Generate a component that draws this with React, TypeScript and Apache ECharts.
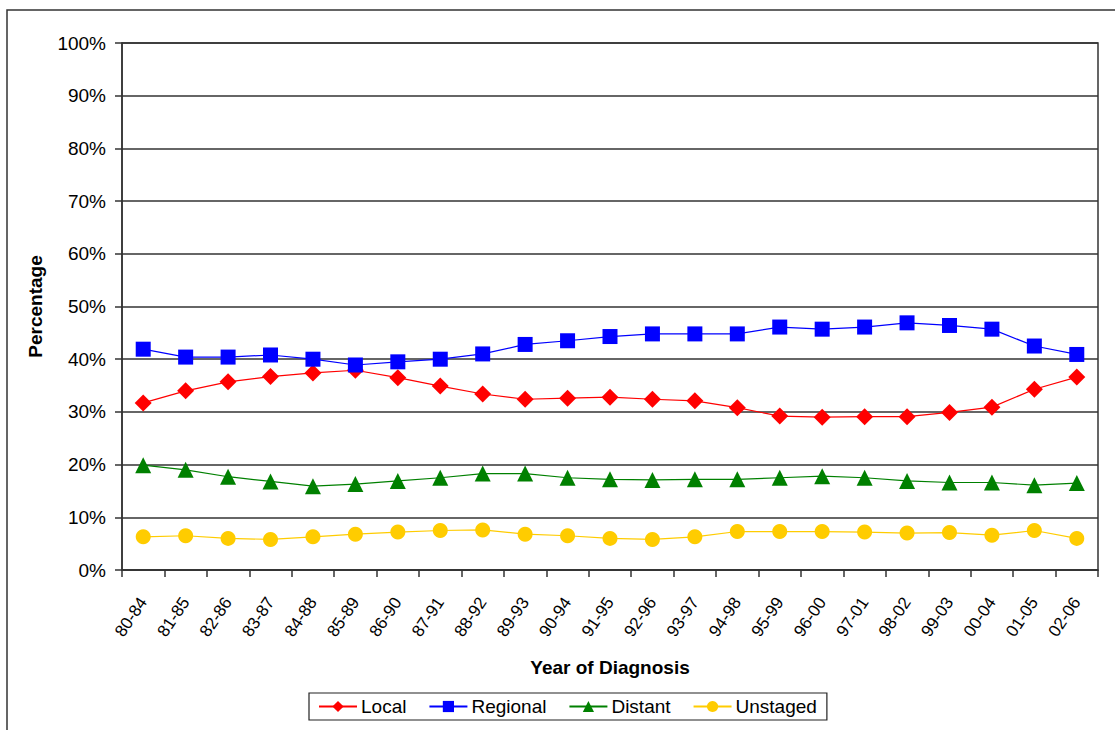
import React, { useEffect, useRef } from "react";
import * as echarts from "echarts";

const categories = ["80-84","81-85","82-86","83-87","84-88","85-89","86-90","87-91","88-92","89-93","90-94","91-95","92-96","93-97","94-98","95-99","96-00","97-01","98-02","99-03","00-04","01-05","02-06"];
const local = [31.7,34.0,35.7,36.7,37.4,37.9,36.5,34.9,33.4,32.4,32.6,32.8,32.4,32.1,30.8,29.2,29.0,29.1,29.1,29.9,30.9,34.3,36.6];
const regional = [41.9,40.4,40.4,40.8,40.0,38.9,39.5,40.0,41.0,42.8,43.5,44.3,44.8,44.8,44.8,46.1,45.7,46.1,46.9,46.4,45.7,42.5,40.9];
const distant = [19.9,19.0,17.7,16.8,15.9,16.3,16.9,17.5,18.3,18.3,17.5,17.2,17.1,17.2,17.2,17.5,17.8,17.5,16.9,16.6,16.6,16.1,16.5];
const unstaged = [6.3,6.5,6.0,5.8,6.3,6.8,7.2,7.5,7.6,6.8,6.5,6.0,5.8,6.3,7.3,7.3,7.3,7.2,7.0,7.1,6.6,7.5,6.0];

const FONT = "'Liberation Sans', Arial, sans-serif";

export default function App() {
  const ref = useRef<HTMLDivElement>(null);
  useEffect(() => {
    if (!ref.current) return;
    const chart = echarts.init(ref.current, null, { renderer: "svg" });
    const mk = (name: string, data: number[], color: string, symbol: string, size: number) => ({
      name,
      type: "line",
      data,
      symbol,
      symbolSize: size,
      lineStyle: { color, width: 1.2 },
      itemStyle: { color },
    });
    chart.setOption({
      animation: false,
      textStyle: { fontFamily: FONT },
      graphic: [
        {
          type: "rect",
          shape: { x: 7, y: 10, width: 1200, height: 800 },
          style: { fill: "none", stroke: "#333", lineWidth: 1.5 },
          silent: true,
        },
      ],
      grid: {
        left: 122,
        right: 17,
        top: 43,
        bottom: 160,
        show: true,
        borderColor: "#333",
        borderWidth: 1.5,
        backgroundColor: "transparent",
      },
      legend: {
        left: 309,
        top: 693,
        padding: [4, 10, 4, 9],
        borderColor: "#222",
        borderWidth: 1.2,
        itemGap: 22,
        itemWidth: 38,
        itemHeight: 14,
        textStyle: { fontFamily: FONT, fontSize: 19, color: "#000", padding: [0, 0, 0, -1] },
        data: ["Local", "Regional", "Distant", "Unstaged"],
      },
      xAxis: {
        type: "category",
        data: categories,
        boundaryGap: true,
        name: "Year of Diagnosis",
        nameLocation: "middle",
        nameGap: 88,
        nameTextStyle: { fontFamily: FONT, fontSize: 19, fontWeight: "bold", color: "#000" },
        axisLine: { lineStyle: { color: "#333", width: 1.5 } },
        axisTick: { show: true, length: 7, inside: false, alignWithLabel: false, lineStyle: { color: "#333", width: 1.5 } },
        axisLabel: { rotate: 56, margin: 29, fontFamily: FONT, fontSize: 17, color: "#000", interval: 0 },
        splitLine: { show: false },
      },
      yAxis: {
        type: "value",
        min: 0,
        max: 100,
        interval: 10,
        name: "Percentage",
        nameLocation: "middle",
        nameRotate: 90,
        nameGap: 77,
        nameTextStyle: { fontFamily: FONT, fontSize: 19, fontWeight: "bold", color: "#000" },
        axisLine: { show: true, lineStyle: { color: "#333", width: 1.5 } },
        axisTick: { show: true, length: 7, lineStyle: { color: "#333", width: 1.5 } },
        axisLabel: { formatter: "{value}%", margin: 16, fontFamily: FONT, fontSize: 19, color: "#000" },
        splitLine: { show: true, lineStyle: { color: "#333", width: 1.5 } },
      },
      series: [
        mk("Local", local, "#FF0000", "diamond", 17),
        mk("Regional", regional, "#0000FF", "rect", 15),
        mk("Distant", distant, "#008000", "triangle", 16),
        mk("Unstaged", unstaged, "#FFCC00", "circle", 15),
      ],
    });
    return () => chart.dispose();
  }, []);
  return (
    <div
      ref={ref}
      style={{ position: "absolute", left: 0, top: 0, width: 1115, height: 730, background: "#fff" }}
    />
  );
}
